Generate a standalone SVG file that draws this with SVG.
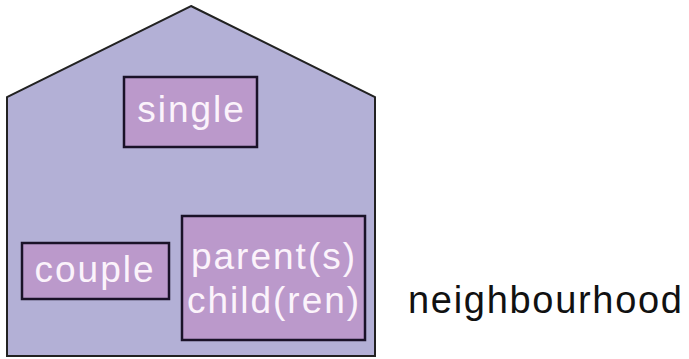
<svg xmlns="http://www.w3.org/2000/svg" width="689" height="359" viewBox="0 0 689 359">
<style>
.box{fill:#BB99CB;stroke:#1A1228;stroke-width:2.5}
.lbl{font-family:"Liberation Sans",Arial,sans-serif;font-size:37px;letter-spacing:2px;fill:#FBF3FB;text-anchor:middle}
</style>
<rect width="689" height="359" fill="#FFFFFF"/>
<g id="house">
<polygon points="191,6 375,97 375,356 7,356 7,97" fill="#B3B0D6" stroke="#222222" stroke-width="2"/>
</g>
<g id="single">
<rect class="box" x="124" y="77" width="133" height="70"/>
<text class="lbl" x="191.5" y="122">single</text>
</g>
<g id="couple">
<rect class="box" x="22" y="243" width="147" height="56"/>
<text class="lbl" x="95" y="282">couple</text>
</g>
<g id="parents">
<rect class="box" x="182" y="216" width="183" height="124"/>
<text class="lbl" x="274" y="269">parent(s)</text>
<text class="lbl" x="274" y="313">child(ren)</text>
</g>
<g id="neighbourhood">
<text x="408" y="313" font-family="'Liberation Sans',Arial,sans-serif" font-size="38" letter-spacing="1.7" fill="#111111">neighbourhood</text>
</g>
<g id="connectors"/>
</svg>
